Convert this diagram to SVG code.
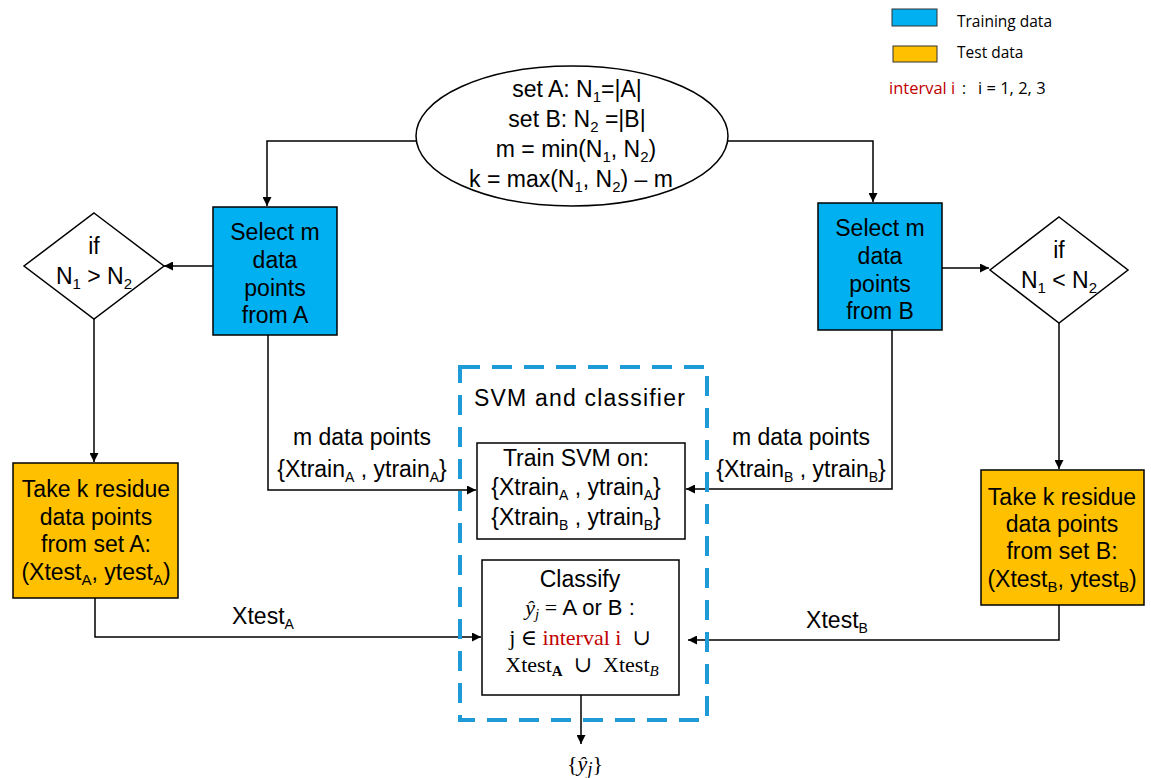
<svg xmlns="http://www.w3.org/2000/svg" width="1151" height="778" viewBox="0 0 1151 778">
  <style>
    .t { font-family: "Liberation Sans", Arial, sans-serif; font-size: 23px; fill: #000; text-anchor: middle; }
    .m { font-family: "Liberation Serif", "DejaVu Serif", serif; font-size: 22px; fill: #000; text-anchor: middle; }
    .lg { font-family: "Open Sans", "Liberation Sans", sans-serif; font-size: 15.5px; fill: #000; }
    .red { fill: #c00000; }
    .ln { fill: none; stroke: #000; stroke-width: 1.5; }
    .box { stroke: #000; stroke-width: 1.5; }
    .train { fill: #00b0f0; }
    .test { fill: #ffc000; }
    .plain { fill: #fff; }
  </style>
  <defs>
    <marker id="arr" viewBox="0 0 10 10" refX="10" refY="5" markerWidth="11" markerHeight="9" markerUnits="userSpaceOnUse" orient="auto">
      <path d="M0,0 L10,5 L0,10 z" fill="#000"/>
    </marker>
  </defs>
  <rect width="1151" height="778" fill="#fff"/>

  <!-- legend -->
  <g id="legend">
    <rect x="892" y="9" width="45" height="17" class="train" stroke="#333" stroke-width="1"/>
    <text x="957" y="27" class="lg">Training data</text>
    <rect x="893" y="46" width="44" height="16" class="test" stroke="#333" stroke-width="1"/>
    <text x="957" y="58" class="lg">Test data</text>
    <text y="94" class="lg"><tspan x="889" class="red" font-size="16.5">interval i</tspan><tspan x="962">:</tspan><tspan x="978" font-size="16.5">i = 1, 2, 3</tspan></text>
  </g>

  <!-- connectors -->
  <g id="connectors">
    <path class="ln" d="M416,141 H267 V206" marker-end="url(#arr)"/>
    <path class="ln" d="M727,141 H873 V202" marker-end="url(#arr)"/>
    <path class="ln" d="M213,266 H164" marker-end="url(#arr)"/>
    <path class="ln" d="M942,268 L989,268" marker-end="url(#arr)"/>
    <path class="ln" d="M94,319 V462" marker-end="url(#arr)"/>
    <path class="ln" d="M1059,323 V469" marker-end="url(#arr)"/>
    <path class="ln" d="M268,335 V490 H476" marker-end="url(#arr)"/>
    <path class="ln" d="M892,330 V489 H686" marker-end="url(#arr)"/>
    <path class="ln" d="M95,598 V637 H481" marker-end="url(#arr)"/>
    <path class="ln" d="M1059,605 V640 H688" marker-end="url(#arr)"/>
    <path class="ln" d="M581,695 V744" marker-end="url(#arr)"/>
  </g>

  <!-- edge labels -->
  <g id="edge-labels">
    <text x="362" y="445" class="t" font-size="22">m data points</text>
    <text x="362" y="477" class="t" font-size="22">{Xtrain<tspan font-size="14" dy="5">A</tspan><tspan dy="-5"> , ytrain</tspan><tspan font-size="14" dy="5">A</tspan><tspan dy="-5">}</tspan></text>
    <text x="801" y="445" class="t" font-size="22">m data points</text>
    <text x="801" y="477" class="t" font-size="22">{Xtrain<tspan font-size="14" dy="5">B</tspan><tspan dy="-5"> , ytrain</tspan><tspan font-size="14" dy="5">B</tspan><tspan dy="-5">}</tspan></text>
    <text x="263" y="624" class="t" font-size="22" text-anchor="start">Xtest<tspan font-size="14" dy="5">A</tspan></text>
    <text x="837" y="628" class="t" font-size="22" text-anchor="start">Xtest<tspan font-size="14" dy="5">B</tspan></text>
    <text x="585" y="771" class="m" font-size="26"><tspan>{</tspan><tspan font-style="italic">ŷ</tspan><tspan font-style="italic" font-size="18" dy="4">j</tspan><tspan dy="-4">}</tspan></text>
  </g>

  <!-- start ellipse -->
  <g id="sets">
    <ellipse cx="572" cy="136" rx="156" ry="70" fill="#fff" stroke="#000" stroke-width="1.5"/>
    <text x="577" y="97" class="t">set A: N<tspan font-size="15" dy="5">1</tspan><tspan dy="-5">=|A|</tspan></text>
    <text x="577" y="127" class="t">set B: N<tspan font-size="15" dy="5">2</tspan><tspan dy="-5"> =|B|</tspan></text>
    <text x="576" y="157" class="t">m = min(N<tspan font-size="15" dy="5">1</tspan><tspan dy="-5">, N</tspan><tspan font-size="15" dy="5">2</tspan><tspan dy="-5">)</tspan></text>
    <text x="571" y="187" class="t">k = max(N<tspan font-size="15" dy="5">1</tspan><tspan dy="-5">, N</tspan><tspan font-size="15" dy="5">2</tspan><tspan dy="-5">) – m</tspan></text>
  </g>

  <g id="select-a">
    <rect x="213" y="207" width="124" height="128" class="box train"/>
    <text x="275" y="240" class="t">Select m</text>
    <text x="275" y="268" class="t">data</text>
    <text x="275" y="296" class="t">points</text>
    <text x="275" y="323" class="t">from A</text>
  </g>

  <g id="select-b">
    <rect x="818" y="203" width="124" height="127" class="box train"/>
    <text x="880" y="236" class="t">Select m</text>
    <text x="880" y="264" class="t">data</text>
    <text x="880" y="292" class="t">points</text>
    <text x="880" y="319" class="t">from B</text>
  </g>

  <g id="if-a">
    <polygon points="94,213 164,266 94,319 24,266" class="box plain"/>
    <text x="94" y="254" class="t">if</text>
    <text x="94" y="284" class="t">N<tspan font-size="15" dy="5">1</tspan><tspan dy="-5"> &gt; N</tspan><tspan font-size="15" dy="5">2</tspan></text>
  </g>

  <g id="if-b">
    <polygon points="1059,217 1128,270 1059,323 990,270" class="box plain"/>
    <text x="1059" y="258" class="t">if</text>
    <text x="1059" y="288" class="t">N<tspan font-size="15" dy="5">1</tspan><tspan dy="-5"> &lt; N</tspan><tspan font-size="15" dy="5">2</tspan></text>
  </g>

  <g id="residue-a">
    <rect x="13" y="463" width="165" height="135" class="box test"/>
    <text x="96" y="497" class="t" font-size="22">Take k residue</text>
    <text x="96" y="525" class="t" font-size="22">data points</text>
    <text x="96" y="552" class="t" font-size="22">from set A:</text>
    <text x="96" y="580" class="t" font-size="22">(Xtest<tspan font-size="15" dy="5">A</tspan><tspan dy="-5">, ytest</tspan><tspan font-size="15" dy="5">A</tspan><tspan dy="-5">)</tspan></text>
  </g>

  <g id="residue-b">
    <rect x="981" y="470" width="163" height="135" class="box test"/>
    <text x="1062" y="505" class="t">Take k residue</text>
    <text x="1062" y="532" class="t">data points</text>
    <text x="1062" y="559" class="t">from set B:</text>
    <text x="1062" y="587" class="t">(Xtest<tspan font-size="15" dy="5">B</tspan><tspan dy="-5">, ytest</tspan><tspan font-size="15" dy="5">B</tspan><tspan dy="-5">)</tspan></text>
  </g>

  <!-- SVM and classifier container -->
  <g id="svm-classifier">
    <rect x="460" y="367" width="247" height="353" fill="none" stroke="#1e9bd7" stroke-width="4" stroke-dasharray="20 12"/>
    <text x="580" y="406" class="t" font-size="27" letter-spacing="1.2">SVM and classifier</text>
  </g>

  <g id="train-svm">
    <rect x="477" y="443" width="208" height="96" class="box plain"/>
    <text x="576" y="466" class="t" font-size="22">Train SVM on:</text>
    <text x="576" y="495" class="t" font-size="22">{Xtrain<tspan font-size="14" dy="5">A</tspan><tspan dy="-5"> , ytrain</tspan><tspan font-size="14" dy="5">A</tspan><tspan dy="-5">}</tspan></text>
    <text x="576" y="525" class="t" font-size="22">{Xtrain<tspan font-size="14" dy="5">B</tspan><tspan dy="-5"> , ytrain</tspan><tspan font-size="14" dy="5">B</tspan><tspan dy="-5">}</tspan></text>
  </g>

  <g id="classify">
    <rect x="482" y="560" width="197" height="135" class="box plain"/>
    <text x="580" y="587" class="t" font-size="22">Classify</text>
    <text x="580" y="615" class="m" font-size="23"><tspan font-style="italic">ŷ</tspan><tspan font-style="italic" font-size="15" dy="4">j</tspan><tspan dy="-4"> = </tspan><tspan font-family="Liberation Sans, Arial, sans-serif" font-size="22">A or B :</tspan></text>
    <text x="580" y="645" class="m" font-size="23" xml:space="preserve">j ∈ <tspan class="red">interval i</tspan>  ∪</text>
    <text x="582" y="672" class="m" font-size="23" xml:space="preserve">Xtest<tspan font-size="15" font-weight="bold" dy="4">A</tspan><tspan dy="-4">  ∪  Xtest</tspan><tspan font-size="15" font-style="italic" dy="4">B</tspan></text>
  </g>
</svg>
